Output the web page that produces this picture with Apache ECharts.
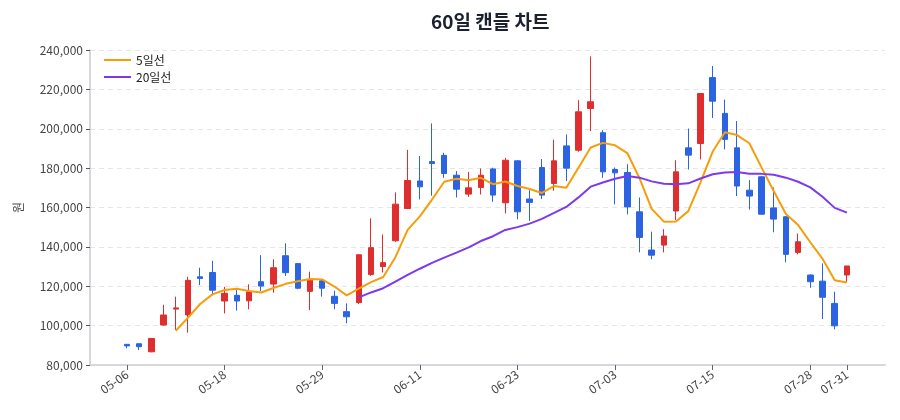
<!DOCTYPE html>
<html>
<head>
<meta charset="utf-8">
<script src="https://cdn.jsdelivr.net/npm/echarts@6.0.0/dist/echarts.min.js"></script>
<style>
  html, body { margin: 0; padding: 0; background: #fff; }
  #container { width: 900px; height: 420px; }
</style>
</head>
<body>
<div id="container"></div>
<script>
// 거래일 (60일)
var dates = [
  '05-06', '05-07', '05-08', '05-10', '05-12', '05-13', '05-14', '05-16', '05-18', '05-19',
  '05-20', '05-22', '05-23', '05-24', '05-26', '05-27', '05-29', '05-30', '06-01', '06-02',
  '06-04', '06-05', '06-07', '06-09', '06-11', '06-12', '06-14', '06-15', '06-16', '06-18',
  '06-19', '06-21', '06-23', '06-24', '06-25', '06-26', '06-28', '06-29', '06-30', '07-02',
  '07-03', '07-04', '07-06', '07-07', '07-08', '07-10', '07-11', '07-13', '07-15', '07-16',
  '07-17', '07-19', '07-21', '07-22', '07-24', '07-26', '07-28', '07-29', '07-30', '07-31'
];
var opens = [
  90500, 90800, 86700, 100300, 108400, 105400, 124800, 127000, 112500, 115400,
  112600, 122300, 121100, 135500, 131500, 117400, 122800, 114900, 107100, 111700,
  126000, 130000, 143100, 159500, 173500, 183300, 186500, 176400, 166800, 170200,
  179600, 162400, 183700, 164300, 180300, 172200, 191300, 189100, 210300, 198000,
  179300, 177800, 157800, 138400, 140900, 158200, 190300, 192500, 226000, 207800,
  190300, 168800, 175600, 159800, 155300, 137200, 125700, 122600, 111300, 125700
];
var closes = [
  89700, 89300, 93500, 105400, 109000, 123000, 124000, 118000, 116400, 112500,
  117200, 120100, 129400, 126900, 119000, 123100, 119000, 111300, 104500, 136000,
  139600, 132000, 161700, 173700, 170500, 182300, 177300, 169300, 170000, 176400,
  166300, 184000, 157800, 162600, 166300, 183700, 180000, 208600, 213700, 178100,
  177600, 160300, 144800, 135800, 145500, 178100, 186600, 217900, 214000, 194600,
  170900, 165800, 156600, 154100, 136200, 142600, 122300, 114400, 99900, 130300
];
var lows = [
  88500, 87600, 86500, 100000, 97800, 96400, 120600, 115500, 106200, 107600,
  108300, 117500, 116700, 125200, 118500, 107900, 114700, 108300, 101200, 111000,
  125300, 127000, 142600, 159200, 164100, 166000, 175100, 165100, 165400, 166600,
  162900, 157000, 154000, 153200, 164300, 168500, 173500, 188300, 198800, 175100,
  161600, 156500, 137200, 133700, 137200, 153600, 179300, 184400, 205500, 189500,
  165800, 159000, 156300, 147400, 132100, 136200, 119200, 103300, 98100, 122300
];
var highs = [
  90700, 90900, 93700, 110600, 114700, 124800, 129400, 132900, 119700, 118100,
  121000, 135800, 133700, 141800, 131800, 127400, 123500, 117700, 111300, 136200,
  154500, 146300, 167700, 189300, 186200, 202700, 187800, 178500, 178100, 179800,
  180200, 185200, 184000, 168800, 184600, 194500, 197100, 214500, 236800, 199300,
  180300, 182000, 165100, 147700, 149000, 184000, 200100, 218000, 231900, 214800,
  203900, 173900, 176000, 170200, 155500, 146800, 126000, 131600, 117200, 130300
];
// 이동평균선
var ma5 = [
  null, null, null, null, 97380, 104040, 110980, 115880, 118080, 118780,
  117620, 116840, 119120, 121220, 122520, 123700, 123480, 119860, 115380, 118780,
  122080, 124680, 134760, 148600, 155500, 164040, 173100, 174620, 173880, 175060,
  171860, 173200, 170900, 169420, 167400, 170880, 170080, 180240, 190460, 192820,
  191600, 187660, 174900, 159320, 152800, 152900, 158160, 172780, 188420, 198240,
  196800, 192640, 180380, 168400, 156720, 151060, 142360, 133920, 123080, 121900
];
var ma20 = [
  null, null, null, null, null, null, null, null, null, null,
  null, null, null, null, null, null, null, null, null, 114370,
  116860, 119000, 122410, 125820, 128900, 131860, 134530, 137090, 139770, 142970,
  145420, 148620, 150040, 151820, 154190, 157220, 160270, 165130, 170590, 172700,
  174600, 176010, 175170, 173270, 172020, 171810, 172280, 174710, 176910, 177820,
  178050, 177140, 177080, 176650, 175150, 173090, 170210, 165500, 159810, 157420
];
var tickIdx = [0, 8, 16, 24, 32, 40, 48, 56, 59];

var dom = document.getElementById('container');
var myChart = echarts.init(dom);

var candles = [];
for (var i = 0; i < dates.length; i++) {
  candles.push([i, opens[i], closes[i], lows[i], highs[i]]);
}
function toPoints(arr) {
  var out = [];
  for (var i = 0; i < arr.length; i++) {
    if (arr[i] != null) out.push([i, arr[i]]);
  }
  return out;
}

var font = '"Noto Sans CJK KR", "Noto Sans", sans-serif';
var option = {
  animation: false,
  backgroundColor: '#ffffff',
  textStyle: { fontFamily: font },
  title: {
    text: '60일 캔들 차트',
    left: 426,
    top: 7,
    textStyle: { fontSize: 19, fontWeight: 'bold', color: '#1b2131', fontFamily: font }
  },
  legend: {
    data: ['5일선', '20일선'],
    orient: 'vertical',
    left: 99,
    top: 49,
    itemGap: 5,
    itemWidth: 27,
    itemHeight: 2,
    icon: 'rect',
    textStyle: { fontSize: 12, color: '#222', fontFamily: font }
  },
  grid: { left: 90, right: 15, top: 50, bottom: 55 },
  xAxis: {
    type: 'value',
    min: -3.03,
    max: 62.12,
    axisLine: { show: true, onZero: false, lineStyle: { color: '#d6d6de', width: 2 } },
    axisTick: { show: true, customValues: tickIdx, length: 5, lineStyle: { color: '#666' } },
    axisLabel: {
      customValues: tickIdx,
      rotate: 35,
      color: '#444',
      fontSize: 12,
      margin: 8,
      formatter: function(v) { return dates[v] || ''; }
    },
    splitLine: { show: false }
  },
  yAxis: {
    type: 'value',
    min: 80000,
    max: 240000,
    interval: 20000,
    name: '원',
    nameLocation: 'middle',
    nameGap: 66,
    nameTextStyle: { color: '#444', fontSize: 12 },
    axisLine: { show: true, onZero: false, lineStyle: { color: '#d6d6de', width: 2 } },
    axisTick: { show: true, length: 4, lineStyle: { color: '#555' } },
    axisLabel: {
      color: '#444',
      fontSize: 12,
      margin: 7,
      formatter: function(v) { return v.toLocaleString('en-US'); }
    },
    splitLine: { show: true, lineStyle: { color: '#e6e6e6', type: [5, 4] } }
  },
  series: [{
    name: '캔들',
    type: 'candlestick',
    barWidth: 6,
    encode: { x: 0, y: [1, 2, 3, 4] },
    itemStyle: {
      color: '#e02d2d',
      color0: '#2b63e3',
      borderColor: '#e02d2d',
      borderColor0: '#2b63e3',
      borderWidth: 1
    },
    data: candles
  }, {
    name: '5일선',
    type: 'line',
    data: toPoints(ma5),
    symbol: 'none',
    lineStyle: { color: '#f59e0b', width: 2 },
    itemStyle: { color: '#f59e0b' }
  }, {
    name: '20일선',
    type: 'line',
    data: toPoints(ma20),
    symbol: 'none',
    lineStyle: { color: '#7c3aed', width: 2 },
    itemStyle: { color: '#7c3aed' }
  }]
};
myChart.setOption(option, true);
</script>
</body>
</html>
